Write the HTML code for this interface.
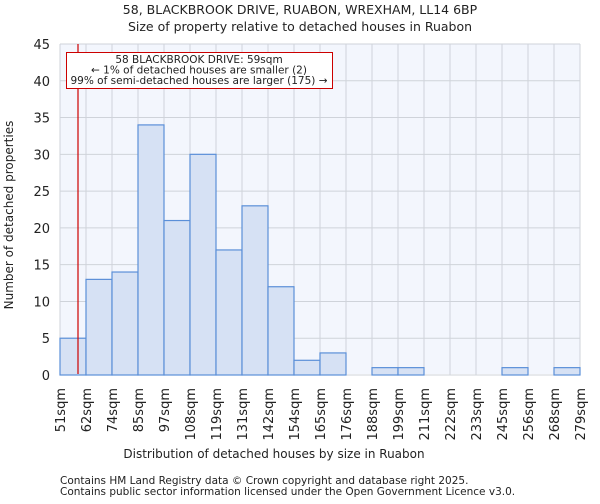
<!DOCTYPE html>
<html><head><meta charset="utf-8"><style>
body{margin:0;background:#fff;font-family:"DejaVu Sans","Liberation Sans",sans-serif}
svg text{font-family:"DejaVu Sans","Liberation Sans",sans-serif;fill:#222}
</style></head><body>
<svg id="chart" width="600" height="500">
<text x="300" y="14" font-size="12.5" text-anchor="middle">58, BLACKBROOK DRIVE, RUABON, WREXHAM, LL14 6BP</text>
<text x="300" y="31" font-size="12.5" text-anchor="middle">Size of property relative to detached houses in Ruabon</text>
<rect x="60" y="44" width="520" height="330" fill="#f3f6fd"/>
<g id="grid"></g><g id="bars"></g><g id="axes"></g>
<line x1="78" y1="44" x2="78" y2="374" stroke="#cc0000" stroke-width="1.2"/>
<g>
<rect x="66.5" y="52.5" width="266" height="36" fill="#fff" stroke="#cc0000"/>
<text x="199" y="63" font-size="10.5" text-anchor="middle">58 BLACKBROOK DRIVE: 59sqm</text>
<text x="199" y="73.5" font-size="10.5" text-anchor="middle">← 1% of detached houses are smaller (2)</text>
<text x="199" y="84" font-size="10.5" text-anchor="middle">99% of semi-detached houses are larger (175) →</text>
</g>
<text x="274" y="458" font-size="12" text-anchor="middle">Distribution of detached houses by size in Ruabon</text>
<text transform="translate(13,215) rotate(-90)" font-size="12" text-anchor="middle">Number of detached properties</text>
<text x="60" y="484" font-size="10.5">Contains HM Land Registry data © Crown copyright and database right 2025.</text>
<text x="60" y="495" font-size="10.5">Contains public sector information licensed under the Open Government Licence v3.0.</text>
</svg>
<script>
const binLabels=["51sqm","62sqm","74sqm","85sqm","97sqm","108sqm","119sqm","131sqm","142sqm","154sqm","165sqm","176sqm","188sqm","199sqm","211sqm","222sqm","233sqm","245sqm","256sqm","268sqm","279sqm"];
const counts=[5,13,14,34,21,30,17,23,12,2,3,0,1,1,0,0,0,1,0,1];
const yTicks=[0,5,10,15,20,25,30,35,40,45];
const NS="http://www.w3.org/2000/svg";
const x0=60,x1=580,y0=375,y1=44,yMax=45;
const bw=(x1-x0)/counts.length;
const xs=i=>x0+i*bw;
const ys=v=>y0-(v/yMax)*(y0-y1);
function mk(t,a,p){const e=document.createElementNS(NS,t);for(const k in a)e.setAttribute(k,a[k]);p.appendChild(e);return e;}
const grid=document.getElementById('grid'),bars=document.getElementById('bars'),axes=document.getElementById('axes');
yTicks.forEach(v=>{
 const l=mk('line',{x1:x0,x2:x1,y1:ys(v),y2:ys(v),stroke:'#cfd3da'},grid);
 
 
 const t=mk('text',{x:50,y:ys(v)+5,'font-size':13,'text-anchor':'end'},axes);t.textContent=v;
 
 
});
binLabels.forEach((s,i)=>{
 const l=mk('line',{x1:xs(i),x2:xs(i),y1:y1,y2:y0,stroke:'#cfd3da'},grid);
 
 
 const t=mk('text',{transform:`translate(${xs(i)+5},388) rotate(-90)`,'font-size':13,'text-anchor':'end'},axes);t.textContent=s;
 
 
});
counts.forEach((c,i)=>{
 if(c<=0)return;
 const r=mk('rect',{x:xs(i),y:ys(c),width:bw,height:y0-ys(c),fill:'#d6e1f4',stroke:'#5b8fd8','stroke-width':1.2},bars);
 
 
});
</script>
</body></html>
